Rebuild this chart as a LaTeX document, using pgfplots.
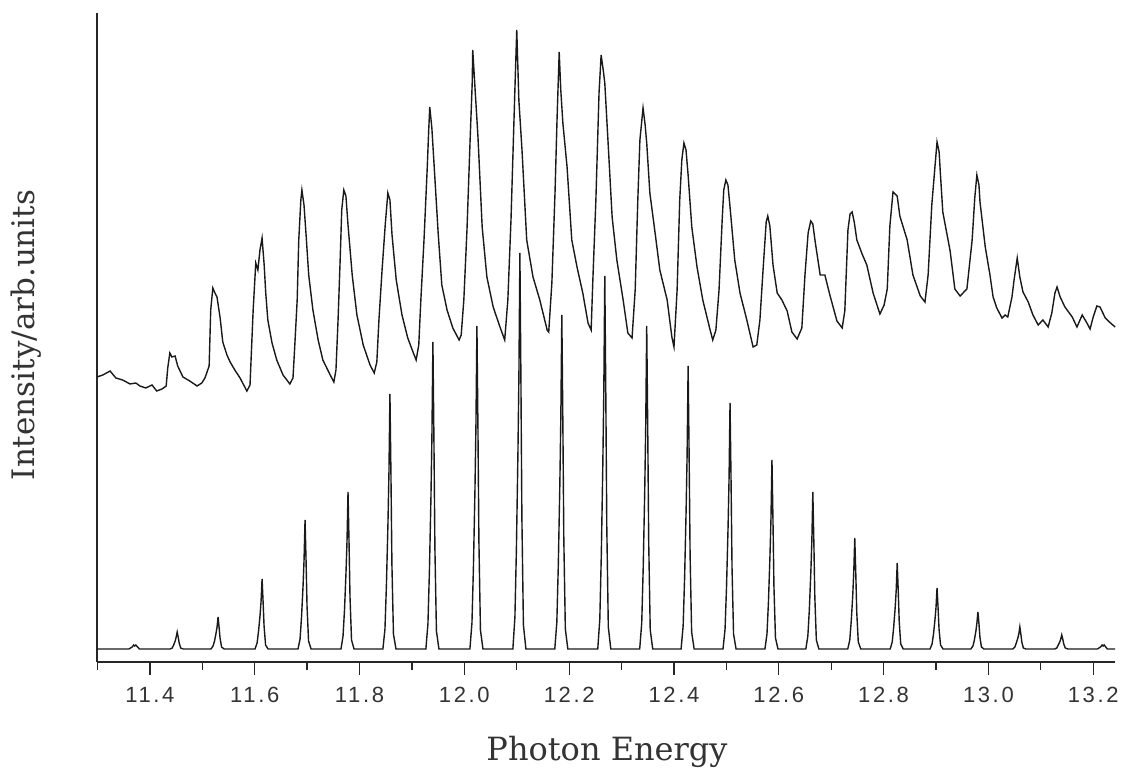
\documentclass[border=0pt]{standalone}
\usepackage{fontspec}
\setmainfont{DejaVu Serif}
\newfontfamily\ticksf{Liberation Sans}[LetterSpace=12]
\usepackage{pgfplots}
\pgfplotsset{compat=1.18}
\begin{document}
\begin{tikzpicture}
\path[use as bounding box] (0,0) rectangle (1123bp,769bp);
\begin{axis}[
  at={(97bp,107bp)}, anchor=south west,
  scale only axis, width=1018bp, height=649bp,
  xmin=11.299, xmax=13.2416, ymin=0, ymax=649,
  axis x line=bottom, axis y line=left,
  axis line style={-, line width=1.5bp, black!85},
  xtick={11.4,11.6,11.8,12.0,12.2,12.4,12.6,12.8,13.0,13.2},
  xticklabels={11.4,11.6,11.8,12.0,12.2,12.4,12.6,12.8,13.0,13.2},
  minor xtick={11.3,11.5,11.7,11.9,12.1,12.3,12.5,12.7,12.9,13.1},
  ytick=\empty,
  tick align=outside,
  major tick length=13bp, minor tick length=8bp,
  every tick/.style={black!85, line width=1.3bp},
  xticklabel style={font={\ticksf\fontsize{22bp}{26bp}\selectfont}, text=black!80, yshift=-9bp},
  clip=false,
]
% experimental spectrum (upper trace)
\addplot[black!90, line width=1.4bp] coordinates {
(11.299,285)(11.310,287)(11.324,291)(11.335,284)(11.348,282)(11.362,278)(11.373,279)(11.381,276)(11.392,274)(11.404,277)(11.413,271)(11.423,273)(11.431,276)
(11.434,294)(11.438,309)(11.442,305)(11.448,306)(11.453,296)(11.463,285)(11.476,281)(11.490,276)(11.499,279)(11.505,284)(11.513,296)
(11.516,352)(11.520,374)(11.524,369)(11.528,365)(11.534,344)(11.539,320)(11.547,307)(11.553,300)(11.562,292)(11.572,284)(11.579,277)(11.585,271)(11.591,277)
(11.597,352)(11.602,399)(11.606,392)(11.610,412)(11.614,424)(11.618,397)(11.621,369)(11.625,342)(11.633,319)(11.642,302)(11.654,287)(11.667,278)(11.673,284)
(11.677,322)(11.681,362)(11.684,422)(11.688,462)(11.690,472)(11.694,457)(11.698,427)(11.703,387)(11.711,352)(11.721,322)(11.730,302)(11.744,287)(11.751,280)(11.755,292)
(11.759,342)(11.763,402)(11.766,452)(11.770,472)(11.774,466)(11.778,437)(11.786,387)(11.795,347)(11.807,317)(11.820,297)(11.828,289)(11.833,300)
(11.837,342)(11.843,392)(11.849,437)(11.854,469)(11.858,462)(11.862,427)(11.870,382)(11.881,347)(11.892,324)(11.902,310)(11.908,302)(11.913,317)
(11.917,362)(11.923,422)(11.929,492)(11.932,532)(11.934,555)(11.938,534)(11.944,482)(11.950,429)(11.957,377)(11.967,352)(11.978,334)(11.990,322)(11.994,327)
(11.999,362)(12.005,432)(12.011,522)(12.015,579)(12.016,612)(12.020,577)(12.026,525)(12.034,435)(12.043,385)(12.055,355)(12.068,335)(12.077,322)
(12.083,362)(12.089,442)(12.093,512)(12.097,582)(12.100,632)(12.104,562)(12.110,512)(12.119,422)(12.131,385)(12.144,362)(12.158,332)(12.161,330)
(12.167,379)(12.173,469)(12.177,545)(12.181,610)(12.184,572)(12.188,539)(12.196,495)(12.205,422)(12.215,395)(12.226,369)(12.236,339)(12.242,332)
(12.245,379)(12.251,462)(12.257,569)(12.261,607)(12.265,592)(12.268,579)(12.274,522)(12.282,445)(12.291,402)(12.303,362)(12.312,329)(12.320,324)
(12.326,372)(12.331,462)(12.335,522)(12.341,554)(12.345,537)(12.348,519)(12.354,469)(12.364,429)(12.373,392)(12.387,362)(12.396,325)(12.400,315)
(12.406,372)(12.411,462)(12.415,502)(12.419,519)(12.423,512)(12.427,487)(12.434,435)(12.444,395)(12.455,362)(12.469,332)(12.474,322)(12.480,332)
(12.486,372)(12.492,442)(12.495,472)(12.499,482)(12.503,477)(12.507,455)(12.516,402)(12.526,369)(12.539,342)(12.551,315)(12.558,317)
(12.564,342)(12.570,392)(12.576,440)(12.579,446)(12.583,436)(12.589,397)(12.597,369)(12.606,362)(12.616,351)(12.625,330)(12.635,323)(12.644,334)
(12.650,387)(12.656,429)(12.661,441)(12.665,438)(12.669,422)(12.679,387)(12.688,387)(12.698,366)(12.711,341)(12.721,334)(12.726,351)
(12.732,432)(12.736,448)(12.740,450)(12.744,440)(12.749,422)(12.759,408)(12.768,397)(12.780,369)(12.793,348)(12.801,357)(12.807,373)
(12.812,436)(12.818,470)(12.822,468)(12.826,466)(12.831,446)(12.845,422)(12.856,387)(12.870,366)(12.879,360)(12.885,387)
(12.892,457)(12.898,495)(12.902,520)(12.906,510)(12.908,492)(12.913,450)(12.927,411)(12.936,373)(12.946,366)(12.959,373)
(12.969,422)(12.974,464)(12.978,487)(12.982,477)(12.984,460)(12.994,415)(13.003,387)(13.009,365)(13.016,354)(13.026,344)(13.032,347)(13.037,345)
(13.045,365)(13.049,382)(13.055,404)(13.060,385)(13.066,370)(13.076,360)(13.085,347)(13.095,337)(13.104,342)(13.114,335)
(13.121,349)(13.127,369)(13.131,375)(13.137,365)(13.146,355)(13.160,345)(13.169,335)(13.179,347)(13.188,339)(13.194,333)
(13.200,345)(13.207,356)(13.213,355)(13.223,344)(13.233,339)(13.242,335)
};
% simulated spectrum (lower trace)
\addplot[black!90, line width=1.4bp] coordinates {
(11.299,13)(11.360,13)(11.366,15)(11.369,17)(11.371,16)(11.373,17)(11.380,13)
(11.4386,13)(11.4425,14)(11.4453,17)(11.4482,21)(11.4501,25)(11.452,30)(11.4539,25)(11.4558,19)(11.4587,14)(11.4635,13)
(11.5166,13)(11.5205,16)(11.5233,21)(11.5262,29)(11.5281,35)(11.530,45)(11.5319,35)(11.5338,24)(11.5367,15)(11.5415,13)
(11.6006,13)(11.6045,19)(11.6073,31)(11.6102,47)(11.6121,61)(11.614,83)(11.6159,61)(11.6178,36)(11.6207,17)(11.6255,13)
(11.6826,13)(11.6865,23)(11.6893,45)(11.6922,76)(11.6941,102)(11.696,142)(11.6979,102)(11.6998,56)(11.7027,21)(11.7075,13)
(11.7646,13)(11.7685,26)(11.7713,52)(11.7742,90)(11.7761,121)(11.778,170)(11.7799,121)(11.7818,65)(11.7847,22)(11.7895,13)
(11.8446,13)(11.8485,33)(11.8513,77)(11.8542,138)(11.8561,189)(11.858,268)(11.8599,189)(11.8618,97)(11.8647,28)(11.8695,13)
(11.9266,13)(11.9305,38)(11.9333,90)(11.9362,163)(11.9381,225)(11.940,320)(11.9419,225)(11.9438,114)(11.9467,31)(11.9515,13)
(12.0106,13)(12.0145,39)(12.0173,94)(12.0202,171)(12.0221,236)(12.024,336)(12.0259,236)(12.0278,120)(12.0307,32)(12.0355,13)
(12.0926,13)(12.0965,45)(12.0993,112)(12.1022,207)(12.1041,286)(12.106,409)(12.1079,286)(12.1098,144)(12.1127,37)(12.1175,13)
(12.1726,13)(12.1765,40)(12.1793,97)(12.1822,177)(12.1841,244)(12.186,347)(12.1879,244)(12.1898,123)(12.1927,33)(12.1975,13)
(12.2546,13)(12.2585,43)(12.2613,106)(12.2642,196)(12.2661,270)(12.268,386)(12.2699,270)(12.2718,136)(12.2747,35)(12.2795,13)
(12.3346,13)(12.3385,39)(12.3413,94)(12.3442,171)(12.3461,236)(12.348,336)(12.3499,236)(12.3518,120)(12.3547,32)(12.3595,13)
(12.4136,13)(12.4175,36)(12.4203,84)(12.4232,152)(12.4251,208)(12.427,296)(12.4289,208)(12.4308,106)(12.4337,30)(12.4385,13)
(12.4936,13)(12.4975,33)(12.5003,75)(12.5032,134)(12.5051,183)(12.507,259)(12.5089,183)(12.5108,94)(12.5137,28)(12.5185,13)
(12.5736,13)(12.5775,28)(12.5803,60)(12.5832,106)(12.5851,143)(12.587,202)(12.5889,143)(12.5908,75)(12.5937,24)(12.5985,13)
(12.6516,13)(12.6555,26)(12.6583,52)(12.6612,90)(12.6631,121)(12.665,170)(12.6669,121)(12.6688,65)(12.6717,22)(12.6765,13)
(12.7316,13)(12.7355,22)(12.7383,41)(12.7412,67)(12.7431,90)(12.745,124)(12.7469,90)(12.7488,50)(12.7517,20)(12.7565,13)
(12.8126,13)(12.8165,20)(12.8193,35)(12.8222,55)(12.8241,72)(12.826,99)(12.8279,72)(12.8298,41)(12.8327,18)(12.8375,13)
(12.8886,13)(12.8925,18)(12.8953,28)(12.8982,43)(12.9001,55)(12.902,74)(12.9039,55)(12.9058,33)(12.9087,17)(12.9135,13)
(12.9666,13)(12.9705,16)(12.9733,22)(12.9762,31)(12.9781,39)(12.980,50)(12.9819,39)(12.9838,25)(12.9867,15)(12.9915,13)
(13.0466,13)(13.0505,15)(13.0533,19)(13.0562,24)(13.0581,28)(13.060,35)(13.0619,28)(13.0638,20)(13.0667,14)(13.0715,13)
(13.1266,13)(13.1305,14)(13.1333,17)(13.1362,20)(13.1381,23)(13.140,27)(13.1419,23)(13.1438,18)(13.1467,14)(13.1515,13)
(13.208,13)(13.214,15)(13.217,17)(13.219,16)(13.221,17)(13.227,13)(13.242,13)
};
\end{axis}
\node[rotate=90, font={\fontsize{31bp}{36bp}\selectfont}, text=black!80] at (26bp,434bp) {Intensity/arb.units};
\node[anchor=base, font={\fontsize{32bp}{38bp}\selectfont}, text=black!80] at (607bp,9bp) {Photon Energy};
\end{tikzpicture}
\end{document}
